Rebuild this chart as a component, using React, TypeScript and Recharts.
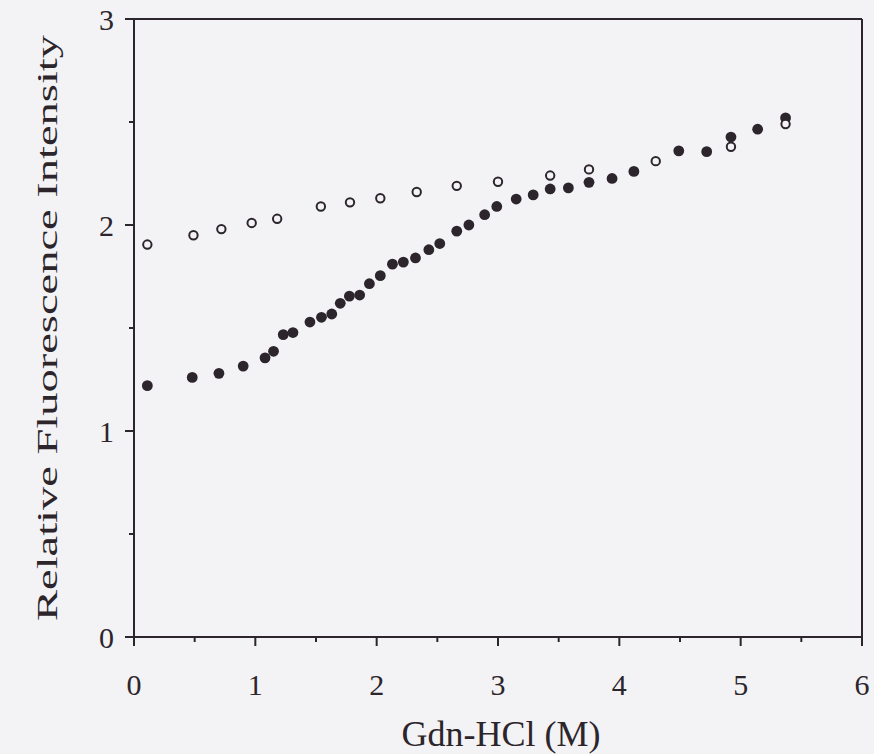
import React from "react";
import { ScatterChart, Scatter, XAxis, YAxis, ReferenceLine } from "recharts";

const openX = [0.11, 0.49, 0.72, 0.97, 1.18, 1.54, 1.78, 2.03, 2.33, 2.66, 3.0, 3.43, 3.75, 4.3, 4.92, 5.37];
const openY = [1.905, 1.95, 1.98, 2.01, 2.03, 2.09, 2.11, 2.13, 2.16, 2.19, 2.21, 2.24, 2.27, 2.31, 2.38, 2.49];

const filledX = [0.11, 0.48, 0.7, 0.9, 1.08, 1.15, 1.23, 1.31, 1.45, 1.545, 1.63, 1.7, 1.775, 1.86, 1.94, 2.03, 2.13, 2.22, 2.32, 2.43, 2.52, 2.66, 2.76, 2.89, 2.99, 3.15, 3.29, 3.43, 3.58, 3.75, 3.94, 4.12, 4.49, 4.72, 4.92, 5.14, 5.37];
const filledY = [1.22, 1.26, 1.28, 1.315, 1.355, 1.387, 1.468, 1.478, 1.529, 1.552, 1.568, 1.62, 1.655, 1.66, 1.715, 1.754, 1.81, 1.82, 1.84, 1.88, 1.91, 1.97, 2.0, 2.05, 2.09, 2.126, 2.146, 2.175, 2.18, 2.207, 2.226, 2.26, 2.36, 2.356, 2.427, 2.465, 2.52];

const xTicks = [0, 0.5, 1, 1.5, 2, 2.5, 3, 3.5, 4, 4.5, 5, 5.5, 6];
const yTicks = [0, 0.5, 1, 1.5, 2, 2.5, 3];
const xTitle = "Gdn-HCl (M)";
const yTitle = "Relative Fluorescence Intensity";

const openData = openX.map((x, i) => ({ x, y: openY[i] }));
const filledData = filledX.map((x, i) => ({ x, y: filledY[i] }));

const INK = "#2c252b";
const BG = "#f3f3f5";
const FONT = "'Liberation Serif', 'Times New Roman', serif";

const XTick = (props: any) => {
  const { x, y, payload } = props;
  const major = Number.isInteger(payload.value);
  return (
    <g>
      <line x1={x} y1={y} x2={x} y2={y + (major ? 9 : 5)} stroke={INK} strokeWidth={2} />
      {major && (
        <text x={x} y={y + 58} textAnchor="middle" fontFamily={FONT} fontSize={30} fill={INK}>
          {payload.value}
        </text>
      )}
    </g>
  );
};

const YTick = (props: any) => {
  const { x, y, payload } = props;
  const major = Number.isInteger(payload.value);
  return (
    <g>
      <line x1={x} y1={y} x2={x - (major ? 9 : 5)} y2={y} stroke={INK} strokeWidth={2} />
      {major && (
        <text x={x - 20} y={y + 11} textAnchor="end" fontFamily={FONT} fontSize={30} fill={INK}>
          {payload.value}
        </text>
      )}
    </g>
  );
};

const FilledDot = (props: any) => <circle cx={props.cx} cy={props.cy} r={5.4} fill={INK} />;
const OpenDot = (props: any) => (
  <circle cx={props.cx} cy={props.cy} r={4.2} fill={BG} stroke={INK} strokeWidth={2} />
);

export default function App() {
  return (
    <div style={{ position: "absolute", left: 0, top: 0, width: 874, height: 754, background: BG }}>
      <ScatterChart width={874} height={754} margin={{ top: 19, right: 12, bottom: 0, left: 0 }}>
        <XAxis
          type="number"
          dataKey="x"
          domain={[0, 6]}
          ticks={xTicks}
          interval={0}
          tickLine={false}
          tickSize={0}
          tickMargin={0}
          tick={<XTick />}
          height={117}
          axisLine={{ stroke: INK, strokeWidth: 2 }}
          label={{
            content: (p: any) => {
              const vb = p.viewBox;
              const cx = vb.x + vb.width / 2;
              return (
                <text x={cx + 3} y={746} textAnchor="middle" fontFamily={FONT} fontSize={36} fill={INK}>
                  {xTitle}
                </text>
              );
            },
          }}
        />
        <YAxis
          type="number"
          dataKey="y"
          domain={[0, 3]}
          ticks={yTicks}
          interval={0}
          tickLine={false}
          tickSize={0}
          tickMargin={0}
          tick={<YTick />}
          width={134}
          axisLine={{ stroke: INK, strokeWidth: 2 }}
          label={{
            content: (p: any) => {
              const vb = p.viewBox;
              const cy = vb.y + vb.height / 2;
              return (
                <text
                  transform={`translate(57, ${cy}) rotate(-90) scale(1.55, 1)`}
                  x={0}
                  y={0}
                  textAnchor="middle"
                  fontFamily={FONT}
                  fontSize={30}
                  fill={INK}
                >
                  {yTitle}
                </text>
              );
            },
          }}
        />
        <ReferenceLine y={3} stroke={INK} strokeWidth={2} />
        <ReferenceLine x={6} stroke={INK} strokeWidth={2} />
        <Scatter data={filledData} shape={<FilledDot />} isAnimationActive={false} />
        <Scatter data={openData} shape={<OpenDot />} isAnimationActive={false} />
      </ScatterChart>
    </div>
  );
}
